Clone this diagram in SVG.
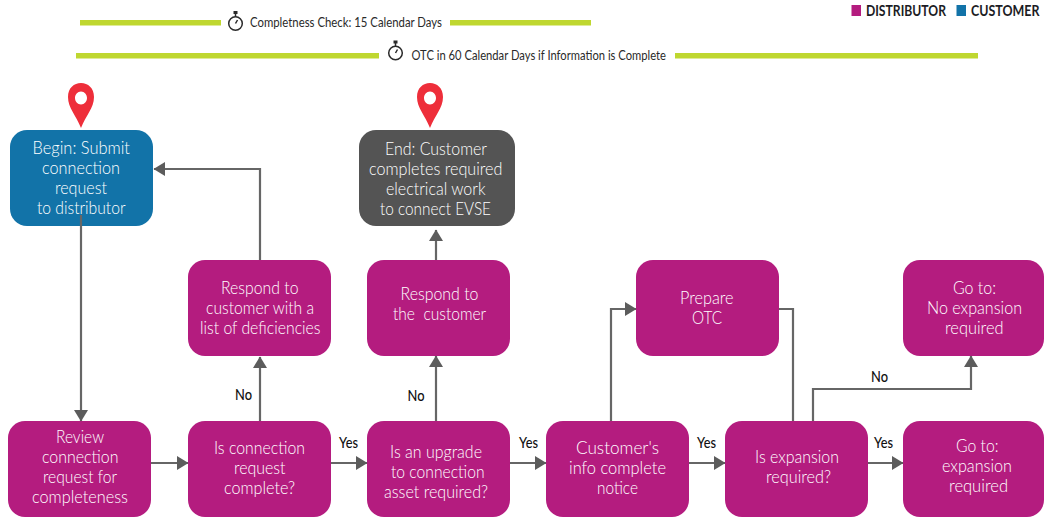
<svg xmlns="http://www.w3.org/2000/svg" width="1044" height="517" viewBox="0 0 1044 517">
<style>
text{font-family:"Lato","Open Sans","Liberation Sans",sans-serif}
.n text{fill:#fff;font-size:17.500px;font-weight:300}
.d{fill:#b41c7f}.c{fill:#1273a8}.e{fill:#545454}
.bar{fill:#bfd730}
.l{fill:#111;font-size:15px;font-weight:500}
.h{fill:#2a2a2a;font-size:13.500px}
.lg{fill:#1c1c24;font-size:15px;font-weight:700}
.w{fill:none;stroke:#666;stroke-width:2.200}
.ic{fill:none;stroke:#2a2a2a;stroke-width:1.500}
.pin{fill:#ee2e3a}
</style>
<defs>
<marker id="a" markerUnits="userSpaceOnUse" markerWidth="12" markerHeight="14" refX="11" refY="7" orient="auto"><path d="M0 0L11.500 7L0 14Z" fill="#5c5c5c"/></marker>
<g id="pinshape"><path class="pin" fill-rule="evenodd" d="M0 45C-5 32-13 25-13 14C-13 5-7 0 0 0C7 0 13 5 13 14C13 25 5 32 0 45ZM0 8.500C-3.500 8.500-6 11.500-6 15C-6 18.500-3.500 21.500 0 21.500C3.500 21.500 6 18.500 6 15C6 11.500 3.500 8.500 0 8.500Z"/></g>
<g id="watch"><circle class="ic" cx="0" cy="0" r="6.800"/><path class="ic" d="M0-6.800V-10M0 0L2-3.500"/><rect x="-2" y="-12.500" width="4" height="3" fill="#2a2a2a"/></g>
</defs>

<g id="header">
<rect class="bar" x="80" y="20" width="141" height="5.500"/><rect class="bar" x="450" y="20" width="141" height="5.500"/>
<rect class="bar" x="76" y="53" width="303" height="5.500"/><rect class="bar" x="675" y="53" width="303" height="5.500"/>
<use href="#watch" x="235.500" y="23.500"/><use href="#watch" x="395.500" y="53"/>
<text class="h" x="250" y="26.500" textLength="192" lengthAdjust="spacingAndGlyphs">Completness Check: 15 Calendar Days</text>
<text class="h" x="411.500" y="60" textLength="254.500" lengthAdjust="spacingAndGlyphs">OTC in 60 Calendar Days if Information is Complete</text>
</g>
<g id="legend">
<rect class="d" x="851.500" y="5" width="9.500" height="11"/><text class="lg" x="866" y="15.500" textLength="80" lengthAdjust="spacingAndGlyphs">DISTRIBUTOR</text>
<rect class="c" x="956.500" y="5" width="9.500" height="11"/><text class="lg" x="1039.500" y="15.500" text-anchor="end" textLength="68.500" lengthAdjust="spacingAndGlyphs">CUSTOMER</text>
</g>
<use id="pin-begin" href="#pinshape" x="81" y="83"/>
<use id="pin-end" href="#pinshape" x="430" y="83"/>

<g id="n-begin" class="n"><rect class="c" x="10" y="130" width="143" height="96" rx="17"/>
<text x="32.500" y="154" textLength="97.500" lengthAdjust="spacingAndGlyphs">Begin: Submit</text><text x="42" y="174" textLength="78" lengthAdjust="spacingAndGlyphs">connection</text><text x="55" y="193.500" textLength="52" lengthAdjust="spacingAndGlyphs">request</text><text x="37" y="214" textLength="88.500" lengthAdjust="spacingAndGlyphs">to distributor</text></g>
<g id="n-end" class="n"><rect class="e" x="359" y="130" width="156" height="96" rx="17"/>
<text x="385" y="155" textLength="102" lengthAdjust="spacingAndGlyphs">End: Customer</text><text x="369" y="175" textLength="133.500" lengthAdjust="spacingAndGlyphs">completes required</text><text x="386" y="195" textLength="99.500" lengthAdjust="spacingAndGlyphs">electrical work</text><text x="380" y="215" textLength="111" lengthAdjust="spacingAndGlyphs">to connect EVSE</text></g>
<g id="n-deficiencies" class="n"><rect class="d" x="188" y="260" width="143" height="96" rx="17"/>
<text x="221" y="294" textLength="77.500" lengthAdjust="spacingAndGlyphs">Respond to</text><text x="206" y="314" textLength="108" lengthAdjust="spacingAndGlyphs">customer with a</text><text x="200" y="334" textLength="120.500" lengthAdjust="spacingAndGlyphs">list of deficiencies</text></g>
<g id="n-respond" class="n"><rect class="d" x="367" y="260" width="143" height="96" rx="17"/>
<text x="400.500" y="300" textLength="78" lengthAdjust="spacingAndGlyphs">Respond to</text><text x="393" y="320" textLength="93" lengthAdjust="spacingAndGlyphs" xml:space="preserve">the  customer</text></g>
<g id="n-prepare" class="n"><rect class="d" x="636" y="260" width="143" height="96" rx="17"/>
<text x="680" y="304" textLength="53.500" lengthAdjust="spacingAndGlyphs">Prepare</text><text x="692" y="324" textLength="30" lengthAdjust="spacingAndGlyphs">OTC</text></g>
<g id="n-noexp" class="n"><rect class="d" x="903" y="260" width="141" height="96" rx="17"/>
<text x="953" y="294" textLength="43" lengthAdjust="spacingAndGlyphs">Go to:</text><text x="927" y="314" textLength="95" lengthAdjust="spacingAndGlyphs">No expansion</text><text x="945" y="334" textLength="58.500" lengthAdjust="spacingAndGlyphs">required</text></g>
<g id="n-review" class="n"><rect class="d" x="8" y="421" width="143" height="96" rx="17"/>
<text x="56" y="443" textLength="48" lengthAdjust="spacingAndGlyphs">Review</text><text x="42" y="463" textLength="76.500" lengthAdjust="spacingAndGlyphs">connection</text><text x="43" y="483" textLength="74" lengthAdjust="spacingAndGlyphs">request for</text><text x="32" y="503" textLength="96" lengthAdjust="spacingAndGlyphs">completeness</text></g>
<g id="n-complete" class="n"><rect class="d" x="188" y="421" width="143" height="96" rx="17"/>
<text x="214" y="453.500" textLength="91" lengthAdjust="spacingAndGlyphs">Is connection</text><text x="234" y="473.500" textLength="51.500" lengthAdjust="spacingAndGlyphs">request</text><text x="224" y="494" textLength="71" lengthAdjust="spacingAndGlyphs">complete?</text></g>
<g id="n-upgrade" class="n"><rect class="d" x="367" y="421" width="143" height="96" rx="17"/>
<text x="390" y="457.500" textLength="92" lengthAdjust="spacingAndGlyphs">Is an upgrade</text><text x="391" y="477.500" textLength="93.500" lengthAdjust="spacingAndGlyphs">to connection</text><text x="384" y="497.500" textLength="104" lengthAdjust="spacingAndGlyphs">asset required?</text></g>
<g id="n-info" class="n"><rect class="d" x="546" y="421" width="143" height="96" rx="17"/>
<text x="576" y="454" textLength="83" lengthAdjust="spacingAndGlyphs">Customer's</text><text x="569" y="474" textLength="97" lengthAdjust="spacingAndGlyphs">info complete</text><text x="597" y="494" textLength="41" lengthAdjust="spacingAndGlyphs">notice</text></g>
<g id="n-isexp" class="n"><rect class="d" x="725" y="421" width="143" height="96" rx="17"/>
<text x="755" y="463" textLength="84" lengthAdjust="spacingAndGlyphs">Is expansion</text><text x="766" y="483" textLength="65" lengthAdjust="spacingAndGlyphs">required?</text></g>
<g id="n-goexp" class="n"><rect class="d" x="903" y="421" width="141" height="96" rx="17"/>
<text x="956" y="452" textLength="42.500" lengthAdjust="spacingAndGlyphs">Go to:</text><text x="942" y="472" textLength="70" lengthAdjust="spacingAndGlyphs">expansion</text><text x="949" y="492" textLength="59" lengthAdjust="spacingAndGlyphs">required</text></g>

<g id="connectors">
<path class="w" d="M81 215V421" marker-end="url(#a)"/>
<path class="w" d="M260 260V169H154" marker-end="url(#a)"/>
<path class="w" d="M260 421V357" marker-end="url(#a)"/>
<path class="w" d="M436 421V356" marker-end="url(#a)"/>
<path class="w" d="M436 260V230" marker-end="url(#a)"/>
<path class="w" d="M151 463H188" marker-end="url(#a)"/>
<path class="w" d="M331 463H367" marker-end="url(#a)"/>
<path class="w" d="M510 463H546" marker-end="url(#a)"/>
<path class="w" d="M689 463H725" marker-end="url(#a)"/>
<path class="w" d="M868 463H903" marker-end="url(#a)"/>
<path class="w" d="M611 421V309H636" marker-end="url(#a)"/>
<path class="w" d="M779 309H793V421"/>
<path class="w" d="M813 421V389H971V356" marker-end="url(#a)"/>
<text class="l" x="235" y="400" textLength="17" lengthAdjust="spacingAndGlyphs">No</text>
<text class="l" x="407.500" y="401" textLength="17" lengthAdjust="spacingAndGlyphs">No</text>
<text class="l" x="871" y="382" textLength="17" lengthAdjust="spacingAndGlyphs">No</text>
<text class="l" x="339" y="448" textLength="19" lengthAdjust="spacingAndGlyphs">Yes</text>
<text class="l" x="519" y="448" textLength="19" lengthAdjust="spacingAndGlyphs">Yes</text>
<text class="l" x="697" y="448" textLength="19" lengthAdjust="spacingAndGlyphs">Yes</text>
<text class="l" x="874" y="448" textLength="19" lengthAdjust="spacingAndGlyphs">Yes</text>
</g>
</svg>
